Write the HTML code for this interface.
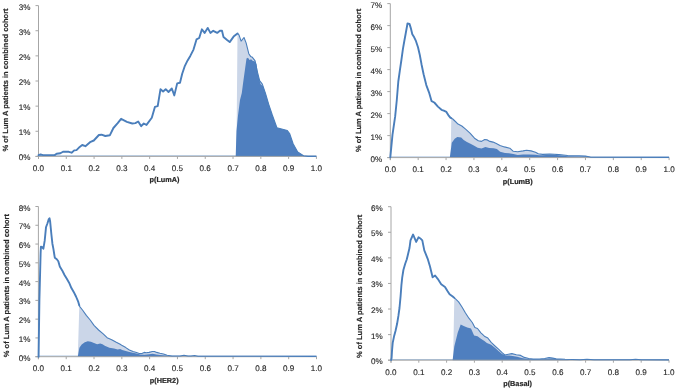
<!DOCTYPE html>
<html><head><meta charset="utf-8"><style>
html,body{margin:0;padding:0;background:#fff;width:676px;height:390px;overflow:hidden}
svg{display:block}
text{font-family:"Liberation Sans", sans-serif;text-rendering:geometricPrecision} svg{will-change:transform}
</style></head><body>
<svg width="676" height="390" viewBox="0 0 676 390">
<rect width="676" height="390" fill="#fff"/>

<polygon points="236.4,156.4 237.5,33.4 239.0,34.9 241.1,41.1 244.0,37.5 246.1,42.9 248.8,53.7 250.6,56.4 252.4,57.3 255.1,60.8 256.9,69.8 259.6,80.6 262.3,84.1 265.4,93.1 268.8,104.6 272.3,115.0 276.9,127.7 287.3,130.5 289.6,133.5 293.1,143.8 297.7,151.9 303.5,155.8 308.0,156.4 316.4,156.4 316.4,156.4" fill="#cbd6e8" stroke="none"/>
<polygon points="235.7,156.4 236.2,140.0 236.5,130.8 238.0,115.4 240.0,100.0 241.8,93.1 243.4,80.8 244.9,70.0 246.5,58.5 248.0,57.7 249.5,60.0 251.1,59.2 252.6,60.8 254.9,61.5 256.5,64.0 257.8,73.4 260.5,84.1 263.1,86.2 265.4,93.1 268.8,104.6 272.3,115.0 276.9,127.7 287.3,130.5 289.6,133.5 293.1,143.8 297.7,151.9 303.5,155.8 306.0,156.4" fill="#4f7fbf" stroke="none"/>
<line x1="38.5" y1="155.70" x2="316.4" y2="155.70" stroke="#4a7ebb" stroke-width="0.9" opacity="0.5"/>
<g stroke="#a6a6a6" stroke-width="1" fill="none"><line x1="38.5" y1="5.6" x2="38.5" y2="158.9" /><line x1="35.5" y1="156.4" x2="316.4" y2="156.4" /><line x1="35.5" y1="156.40" x2="38.5" y2="156.40" /><line x1="35.5" y1="131.27" x2="38.5" y2="131.27" /><line x1="35.5" y1="106.13" x2="38.5" y2="106.13" /><line x1="35.5" y1="81.00" x2="38.5" y2="81.00" /><line x1="35.5" y1="55.87" x2="38.5" y2="55.87" /><line x1="35.5" y1="30.73" x2="38.5" y2="30.73" /><line x1="35.5" y1="5.60" x2="38.5" y2="5.60" /><line x1="38.50" y1="156.4" x2="38.50" y2="158.9" /><line x1="66.29" y1="156.4" x2="66.29" y2="158.9" /><line x1="94.08" y1="156.4" x2="94.08" y2="158.9" /><line x1="121.87" y1="156.4" x2="121.87" y2="158.9" /><line x1="149.66" y1="156.4" x2="149.66" y2="158.9" /><line x1="177.45" y1="156.4" x2="177.45" y2="158.9" /><line x1="205.24" y1="156.4" x2="205.24" y2="158.9" /><line x1="233.03" y1="156.4" x2="233.03" y2="158.9" /><line x1="260.82" y1="156.4" x2="260.82" y2="158.9" /><line x1="288.61" y1="156.4" x2="288.61" y2="158.9" /><line x1="316.40" y1="156.4" x2="316.40" y2="158.9" /></g>
<polyline points="237.5,33.4 237.5,33.4 239.0,34.9 241.1,41.1 244.0,37.5 246.1,42.9 248.8,53.7 250.6,56.4 252.4,57.3 255.1,60.8 256.9,69.8 259.6,80.6 262.3,84.1 265.4,93.1 268.8,104.6 272.3,115.0 276.9,127.7 287.3,130.5 289.6,133.5 293.1,143.8 297.7,151.9 303.5,155.8 308.0,156.4 316.4,156.4" fill="none" stroke="#4a7ebb" stroke-width="1.1" stroke-linejoin="round"/>
<polyline points="38.5,155.2 40.6,154.5 43.1,155.1 54.7,155.1 56.6,153.8 60.4,153.3 63.0,151.8 68.8,151.8 71.6,152.7 74.2,150.4 76.5,150.1 79.7,146.9 82.2,145.0 85.4,146.2 90.6,141.8 93.8,140.5 98.9,135.0 101.5,134.7 105.3,136.0 109.8,135.3 113.4,128.0 117.7,123.1 121.1,118.8 126.9,121.8 132.3,123.5 135.4,123.1 138.2,121.5 141.2,126.2 143.8,123.5 146.5,124.9 151.8,117.7 154.9,106.9 157.7,106.2 160.5,89.2 163.1,91.5 165.7,89.2 168.5,92.0 171.8,88.5 174.3,95.4 177.2,83.4 180.0,82.8 182.2,73.8 184.9,65.8 187.6,60.4 190.3,55.9 193.5,49.6 196.5,39.4 199.2,38.0 201.9,29.3 204.6,32.9 207.7,27.9 210.4,32.9 213.2,30.8 217.2,32.9 219.9,30.8 222.0,30.8 223.5,37.1 227.1,40.1 229.7,42.1 233.6,36.6 237.5,33.4 237.5,33.4" fill="none" stroke="#4a7ebb" stroke-width="1.9" stroke-linejoin="round" stroke-linecap="round"/>
<g font-size="8.1" fill="#262626" stroke="#262626" stroke-width="0.12"><text x="30.5" y="160.40" text-anchor="end">0%</text><text x="30.5" y="135.27" text-anchor="end">1%</text><text x="30.5" y="110.13" text-anchor="end">1%</text><text x="30.5" y="85.00" text-anchor="end">2%</text><text x="30.5" y="59.87" text-anchor="end">2%</text><text x="30.5" y="34.73" text-anchor="end">3%</text><text x="30.5" y="9.60" text-anchor="end">3%</text><text x="38.50" y="170.90" text-anchor="middle">0.0</text><text x="66.29" y="170.90" text-anchor="middle">0.1</text><text x="94.08" y="170.90" text-anchor="middle">0.2</text><text x="121.87" y="170.90" text-anchor="middle">0.3</text><text x="149.66" y="170.90" text-anchor="middle">0.4</text><text x="177.45" y="170.90" text-anchor="middle">0.5</text><text x="205.24" y="170.90" text-anchor="middle">0.6</text><text x="233.03" y="170.90" text-anchor="middle">0.7</text><text x="260.82" y="170.90" text-anchor="middle">0.8</text><text x="288.61" y="170.90" text-anchor="middle">0.9</text><text x="316.40" y="170.90" text-anchor="middle">1.0</text></g>
<text x="164.5" y="181.8" text-anchor="middle" font-size="7.3" font-weight="bold" fill="#262626" stroke="#262626" stroke-width="0.2">p(LumA)</text>
<text transform="translate(8.2,80.0) rotate(-90)" text-anchor="middle" font-size="7.5" font-weight="bold" fill="#262626" stroke="#262626" stroke-width="0.15">% of Lum A patients in combined cohort</text>
<polygon points="450.6,157.6 451.3,118.3 452.8,119.0 455.4,121.5 458.0,124.1 461.8,126.0 465.6,129.2 470.0,133.1 474.5,138.2 478.3,140.8 481.5,141.4 484.7,139.5 487.3,139.9 489.9,141.4 493.1,142.1 496.3,143.6 500.0,145.5 504.4,146.9 509.8,148.2 513.3,151.3 517.7,151.7 523.1,150.9 526.6,150.2 531.1,150.9 535.5,152.2 538.2,153.8 542.6,154.4 549.7,154.1 554.4,154.2 558.9,154.6 567.7,155.5 579.3,155.8 585.5,156.1 589.0,156.7 590.8,157.3 669.1,157.6" fill="#cbd6e8" stroke="none"/>
<polygon points="449.8,157.6 451.8,142.7 454.7,138.8 457.3,136.9 461.2,137.6 463.7,140.1 466.9,142.0 470.0,143.6 473.8,145.6 477.7,147.8 481.5,148.5 485.4,146.9 489.2,148.1 493.7,148.2 496.9,149.1 500.1,151.7 505.0,152.9 508.9,153.2 513.3,154.1 517.7,155.0 523.1,154.4 529.3,154.4 535.5,154.7 539.0,155.3 542.6,155.2 549.7,154.8 554.4,154.8 558.9,155.2 567.7,156.2 579.3,156.4 585.5,156.5 589.0,156.9 590.8,157.6" fill="#4f7fbf" stroke="none"/>
<line x1="390.3" y1="156.90" x2="669.1" y2="156.90" stroke="#4a7ebb" stroke-width="0.9" opacity="0.5"/>
<g stroke="#a6a6a6" stroke-width="1" fill="none"><line x1="390.3" y1="3.6" x2="390.3" y2="160.1" /><line x1="387.3" y1="157.6" x2="669.1" y2="157.6" /><line x1="387.3" y1="157.60" x2="390.3" y2="157.60" /><line x1="387.3" y1="135.60" x2="390.3" y2="135.60" /><line x1="387.3" y1="113.60" x2="390.3" y2="113.60" /><line x1="387.3" y1="91.60" x2="390.3" y2="91.60" /><line x1="387.3" y1="69.60" x2="390.3" y2="69.60" /><line x1="387.3" y1="47.60" x2="390.3" y2="47.60" /><line x1="387.3" y1="25.60" x2="390.3" y2="25.60" /><line x1="387.3" y1="3.60" x2="390.3" y2="3.60" /><line x1="390.30" y1="157.6" x2="390.30" y2="160.1" /><line x1="418.18" y1="157.6" x2="418.18" y2="160.1" /><line x1="446.06" y1="157.6" x2="446.06" y2="160.1" /><line x1="473.94" y1="157.6" x2="473.94" y2="160.1" /><line x1="501.82" y1="157.6" x2="501.82" y2="160.1" /><line x1="529.70" y1="157.6" x2="529.70" y2="160.1" /><line x1="557.58" y1="157.6" x2="557.58" y2="160.1" /><line x1="585.46" y1="157.6" x2="585.46" y2="160.1" /><line x1="613.34" y1="157.6" x2="613.34" y2="160.1" /><line x1="641.22" y1="157.6" x2="641.22" y2="160.1" /><line x1="669.10" y1="157.6" x2="669.10" y2="160.1" /></g>
<polyline points="451.3,118.2 452.8,119.0 455.4,121.5 458.0,124.1 461.8,126.0 465.6,129.2 470.0,133.1 474.5,138.2 478.3,140.8 481.5,141.4 484.7,139.5 487.3,139.9 489.9,141.4 493.1,142.1 496.3,143.6 500.0,145.5 504.4,146.9 509.8,148.2 513.3,151.3 517.7,151.7 523.1,150.9 526.6,150.2 531.1,150.9 535.5,152.2 538.2,153.8 542.6,154.4 549.7,154.1 554.4,154.2 558.9,154.6 567.7,155.5 579.3,155.8 585.5,156.1 589.0,156.7 590.8,157.3 669.1,157.4" fill="none" stroke="#4a7ebb" stroke-width="1.1" stroke-linejoin="round"/>
<polyline points="390.3,157.4 392.5,134.6 395.2,116.2 396.8,100.0 398.3,81.5 399.8,70.8 401.4,60.0 402.9,49.2 404.5,40.0 405.7,33.5 407.5,23.5 409.5,23.9 410.8,28.1 412.3,34.2 414.2,37.3 416.0,41.2 418.0,47.3 419.8,55.0 421.5,64.2 423.6,74.3 426.3,85.1 429.0,92.3 431.6,101.2 434.3,102.5 437.9,106.6 441.5,109.8 443.8,110.6 446.4,111.9 448.3,115.1 450.3,117.7 451.3,118.2" fill="none" stroke="#4a7ebb" stroke-width="1.9" stroke-linejoin="round" stroke-linecap="round"/>
<g font-size="8.1" fill="#262626" stroke="#262626" stroke-width="0.12"><text x="382.3" y="161.60" text-anchor="end">0%</text><text x="382.3" y="139.60" text-anchor="end">1%</text><text x="382.3" y="117.60" text-anchor="end">2%</text><text x="382.3" y="95.60" text-anchor="end">3%</text><text x="382.3" y="73.60" text-anchor="end">4%</text><text x="382.3" y="51.60" text-anchor="end">5%</text><text x="382.3" y="29.60" text-anchor="end">6%</text><text x="382.3" y="7.60" text-anchor="end">7%</text><text x="390.30" y="172.10" text-anchor="middle">0.0</text><text x="418.18" y="172.10" text-anchor="middle">0.1</text><text x="446.06" y="172.10" text-anchor="middle">0.2</text><text x="473.94" y="172.10" text-anchor="middle">0.3</text><text x="501.82" y="172.10" text-anchor="middle">0.4</text><text x="529.70" y="172.10" text-anchor="middle">0.5</text><text x="557.58" y="172.10" text-anchor="middle">0.6</text><text x="585.46" y="172.10" text-anchor="middle">0.7</text><text x="613.34" y="172.10" text-anchor="middle">0.8</text><text x="641.22" y="172.10" text-anchor="middle">0.9</text><text x="669.10" y="172.10" text-anchor="middle">1.0</text></g>
<text x="517.8" y="184.0" text-anchor="middle" font-size="7.3" font-weight="bold" fill="#262626" stroke="#262626" stroke-width="0.2">p(LumB)</text>
<text transform="translate(361.0,80.4) rotate(-90)" text-anchor="middle" font-size="7.5" font-weight="bold" fill="#262626" stroke="#262626" stroke-width="0.15">% of Lum A patients in combined cohort</text>
<polygon points="77.8,356.7 79.3,306.6 82.5,310.0 86.3,315.4 90.2,320.0 94.0,325.4 98.6,330.0 103.2,333.8 107.1,337.7 111.7,339.7 116.3,342.3 120.2,344.3 122.2,345.6 125.8,347.6 129.4,350.0 133.0,351.5 136.5,352.6 139.2,353.5 141.9,353.5 144.2,352.4 146.4,352.8 149.1,352.4 152.3,351.5 154.5,351.5 156.7,352.4 159.9,353.3 163.5,354.0 167.1,355.3 172.0,356.0 180.0,356.0 184.0,355.3 188.0,356.0 191.0,356.0 194.6,355.5 198.0,356.2 316.5,356.7" fill="#cbd6e8" stroke="none"/>
<polygon points="77.8,356.7 79.4,347.7 81.7,344.6 84.8,342.3 87.8,341.2 90.9,341.8 94.0,343.1 97.1,344.2 100.2,343.5 102.5,344.2 104.8,345.8 109.4,347.7 114.0,348.5 117.8,349.5 120.2,348.9 122.2,350.1 125.8,350.9 129.4,351.9 133.0,352.8 136.5,353.5 140.1,354.4 144.6,354.8 149.1,354.2 152.7,353.7 156.3,354.4 159.9,355.1 165.0,355.5 172.0,356.3 180.0,356.7" fill="#4f7fbf" stroke="none"/>
<line x1="38.4" y1="356.00" x2="316.5" y2="356.00" stroke="#4a7ebb" stroke-width="0.9" opacity="0.5"/>
<g stroke="#a6a6a6" stroke-width="1" fill="none"><line x1="38.4" y1="206.5" x2="38.4" y2="359.2" /><line x1="35.4" y1="356.7" x2="316.5" y2="356.7" /><line x1="35.4" y1="356.70" x2="38.4" y2="356.70" /><line x1="35.4" y1="337.93" x2="38.4" y2="337.93" /><line x1="35.4" y1="319.15" x2="38.4" y2="319.15" /><line x1="35.4" y1="300.38" x2="38.4" y2="300.38" /><line x1="35.4" y1="281.60" x2="38.4" y2="281.60" /><line x1="35.4" y1="262.82" x2="38.4" y2="262.82" /><line x1="35.4" y1="244.05" x2="38.4" y2="244.05" /><line x1="35.4" y1="225.28" x2="38.4" y2="225.28" /><line x1="35.4" y1="206.50" x2="38.4" y2="206.50" /><line x1="38.40" y1="356.7" x2="38.40" y2="359.2" /><line x1="66.21" y1="356.7" x2="66.21" y2="359.2" /><line x1="94.02" y1="356.7" x2="94.02" y2="359.2" /><line x1="121.83" y1="356.7" x2="121.83" y2="359.2" /><line x1="149.64" y1="356.7" x2="149.64" y2="359.2" /><line x1="177.45" y1="356.7" x2="177.45" y2="359.2" /><line x1="205.26" y1="356.7" x2="205.26" y2="359.2" /><line x1="233.07" y1="356.7" x2="233.07" y2="359.2" /><line x1="260.88" y1="356.7" x2="260.88" y2="359.2" /><line x1="288.69" y1="356.7" x2="288.69" y2="359.2" /><line x1="316.50" y1="356.7" x2="316.50" y2="359.2" /></g>
<polyline points="79.3,305.4 79.6,306.4 82.5,310.0 86.3,315.4 90.2,320.0 94.0,325.4 98.6,330.0 103.2,333.8 107.1,337.7 111.7,339.7 116.3,342.3 120.2,344.3 122.2,345.6 125.8,347.6 129.4,350.0 133.0,351.5 136.5,352.6 139.2,353.5 141.9,353.5 144.2,352.4 146.4,352.8 149.1,352.4 152.3,351.5 154.5,351.5 156.7,352.4 159.9,353.3 163.5,354.0 167.1,355.3 172.0,356.0 180.0,356.0 184.0,355.3 188.0,356.0 191.0,356.0 194.6,355.5 198.0,356.2 316.5,356.4" fill="none" stroke="#4a7ebb" stroke-width="1.1" stroke-linejoin="round"/>
<polyline points="38.6,356.7 39.4,300.0 40.6,254.0 40.9,246.8 41.9,247.0 43.4,248.7 44.7,240.7 46.0,227.3 47.3,223.7 48.8,219.1 49.5,218.3 50.1,221.2 51.4,234.5 52.4,243.7 53.4,248.9 54.2,254.0 54.8,257.7 56.8,259.2 58.3,261.2 59.8,266.5 62.2,270.4 64.5,275.0 66.8,278.8 69.1,282.7 71.4,288.1 73.7,291.9 76.0,296.5 78.3,301.9 79.3,305.4" fill="none" stroke="#4a7ebb" stroke-width="1.9" stroke-linejoin="round" stroke-linecap="round"/>
<g font-size="8.1" fill="#262626" stroke="#262626" stroke-width="0.12"><text x="30.4" y="360.70" text-anchor="end">0%</text><text x="30.4" y="341.93" text-anchor="end">1%</text><text x="30.4" y="323.15" text-anchor="end">2%</text><text x="30.4" y="304.38" text-anchor="end">3%</text><text x="30.4" y="285.60" text-anchor="end">4%</text><text x="30.4" y="266.82" text-anchor="end">5%</text><text x="30.4" y="248.05" text-anchor="end">6%</text><text x="30.4" y="229.28" text-anchor="end">7%</text><text x="30.4" y="210.50" text-anchor="end">8%</text><text x="38.40" y="371.20" text-anchor="middle">0.0</text><text x="66.21" y="371.20" text-anchor="middle">0.1</text><text x="94.02" y="371.20" text-anchor="middle">0.2</text><text x="121.83" y="371.20" text-anchor="middle">0.3</text><text x="149.64" y="371.20" text-anchor="middle">0.4</text><text x="177.45" y="371.20" text-anchor="middle">0.5</text><text x="205.26" y="371.20" text-anchor="middle">0.6</text><text x="233.07" y="371.20" text-anchor="middle">0.7</text><text x="260.88" y="371.20" text-anchor="middle">0.8</text><text x="288.69" y="371.20" text-anchor="middle">0.9</text><text x="316.50" y="371.20" text-anchor="middle">1.0</text></g>
<text x="164.2" y="382.6" text-anchor="middle" font-size="7.3" font-weight="bold" fill="#262626" stroke="#262626" stroke-width="0.2">p(HER2)</text>
<text transform="translate(8.6,285.6) rotate(-90)" text-anchor="middle" font-size="7.5" font-weight="bold" fill="#262626" stroke="#262626" stroke-width="0.15">% of Lum A patients in combined cohort</text>
<polygon points="453.1,360.2 454.3,298.6 455.8,299.2 458.6,301.9 462.0,307.0 465.5,313.0 468.9,318.2 472.3,322.5 474.9,327.6 477.5,328.5 480.9,332.8 484.4,336.2 487.8,338.0 491.2,342.3 495.5,346.5 498.5,349.2 502.1,352.7 504.8,355.0 508.3,354.3 511.9,353.6 516.3,354.7 520.7,355.4 524.3,357.4 528.7,358.5 533.2,359.1 539.4,359.0 544.7,358.5 549.1,357.6 552.7,358.1 556.0,358.8 565.0,359.3 580.0,359.8 587.0,359.2 594.0,359.8 630.0,359.8 635.6,359.2 641.0,359.8 669.0,360.2" fill="#cbd6e8" stroke="none"/>
<polygon points="452.6,360.2 454.3,346.5 457.7,332.8 460.7,324.6 463.7,325.9 467.2,327.6 471.0,328.5 474.1,335.4 477.5,336.2 480.9,338.8 484.4,341.0 486.9,343.1 491.2,344.8 495.5,348.3 498.5,351.0 502.1,354.1 505.6,355.6 509.2,355.4 512.7,355.9 517.2,356.7 521.6,357.9 526.1,358.8 533.2,359.4 545.0,359.0 552.0,358.6 560.0,359.3 570.0,360.2" fill="#4f7fbf" stroke="none"/>
<line x1="391.0" y1="359.50" x2="669.0" y2="359.50" stroke="#4a7ebb" stroke-width="0.9" opacity="0.5"/>
<g stroke="#a6a6a6" stroke-width="1" fill="none"><line x1="391.0" y1="206.7" x2="391.0" y2="362.7" /><line x1="388.0" y1="360.2" x2="669.0" y2="360.2" /><line x1="388.0" y1="360.20" x2="391.0" y2="360.20" /><line x1="388.0" y1="334.62" x2="391.0" y2="334.62" /><line x1="388.0" y1="309.03" x2="391.0" y2="309.03" /><line x1="388.0" y1="283.45" x2="391.0" y2="283.45" /><line x1="388.0" y1="257.87" x2="391.0" y2="257.87" /><line x1="388.0" y1="232.28" x2="391.0" y2="232.28" /><line x1="388.0" y1="206.70" x2="391.0" y2="206.70" /><line x1="391.00" y1="360.2" x2="391.00" y2="362.7" /><line x1="418.80" y1="360.2" x2="418.80" y2="362.7" /><line x1="446.60" y1="360.2" x2="446.60" y2="362.7" /><line x1="474.40" y1="360.2" x2="474.40" y2="362.7" /><line x1="502.20" y1="360.2" x2="502.20" y2="362.7" /><line x1="530.00" y1="360.2" x2="530.00" y2="362.7" /><line x1="557.80" y1="360.2" x2="557.80" y2="362.7" /><line x1="585.60" y1="360.2" x2="585.60" y2="362.7" /><line x1="613.40" y1="360.2" x2="613.40" y2="362.7" /><line x1="641.20" y1="360.2" x2="641.20" y2="362.7" /><line x1="669.00" y1="360.2" x2="669.00" y2="362.7" /></g>
<polyline points="454.3,297.9 455.8,299.2 458.6,301.9 462.0,307.0 465.5,313.0 468.9,318.2 472.3,322.5 474.9,327.6 477.5,328.5 480.9,332.8 484.4,336.2 487.8,338.0 491.2,342.3 495.5,346.5 498.5,349.2 502.1,352.7 504.8,355.0 508.3,354.3 511.9,353.6 516.3,354.7 520.7,355.4 524.3,357.4 528.7,358.5 533.2,359.1 539.4,359.0 544.7,358.5 549.1,357.6 552.7,358.1 556.0,358.8 565.0,359.3 580.0,359.8 587.0,359.2 594.0,359.8 630.0,359.8 635.6,359.2 641.0,359.8 669.0,359.9" fill="none" stroke="#4a7ebb" stroke-width="1.1" stroke-linejoin="round"/>
<polyline points="391.1,360.0 391.6,358.0 392.0,350.9 392.7,342.9 394.0,336.6 395.5,331.0 397.1,323.8 398.4,315.9 399.5,308.0 400.6,296.2 401.4,285.4 402.2,277.7 403.4,270.0 405.2,263.8 406.8,259.2 408.3,253.1 409.5,248.0 410.5,240.4 413.1,234.5 414.6,238.1 416.2,241.9 418.5,237.3 420.8,238.8 422.3,240.4 424.3,250.4 427.7,258.8 430.0,266.5 432.6,277.3 435.1,275.5 437.7,278.8 441.2,284.2 445.0,286.9 447.3,290.8 449.6,294.3 452.7,296.5 454.3,297.9" fill="none" stroke="#4a7ebb" stroke-width="1.9" stroke-linejoin="round" stroke-linecap="round"/>
<g font-size="8.1" fill="#262626" stroke="#262626" stroke-width="0.12"><text x="382.8" y="364.20" text-anchor="end">0%</text><text x="382.8" y="338.62" text-anchor="end">1%</text><text x="382.8" y="313.03" text-anchor="end">2%</text><text x="382.8" y="287.45" text-anchor="end">3%</text><text x="382.8" y="261.87" text-anchor="end">4%</text><text x="382.8" y="236.28" text-anchor="end">5%</text><text x="382.8" y="210.70" text-anchor="end">6%</text><text x="391.00" y="374.70" text-anchor="middle">0.0</text><text x="418.80" y="374.70" text-anchor="middle">0.1</text><text x="446.60" y="374.70" text-anchor="middle">0.2</text><text x="474.40" y="374.70" text-anchor="middle">0.3</text><text x="502.20" y="374.70" text-anchor="middle">0.4</text><text x="530.00" y="374.70" text-anchor="middle">0.5</text><text x="557.80" y="374.70" text-anchor="middle">0.6</text><text x="585.60" y="374.70" text-anchor="middle">0.7</text><text x="613.40" y="374.70" text-anchor="middle">0.8</text><text x="641.20" y="374.70" text-anchor="middle">0.9</text><text x="669.00" y="374.70" text-anchor="middle">1.0</text></g>
<text x="517.6" y="385.7" text-anchor="middle" font-size="7.3" font-weight="bold" fill="#262626" stroke="#262626" stroke-width="0.2">p(Basal)</text>
<text transform="translate(362.0,286.3) rotate(-90)" text-anchor="middle" font-size="7.5" font-weight="bold" fill="#262626" stroke="#262626" stroke-width="0.15">% of Lum A patients in combined cohort</text>
</svg></body></html>
